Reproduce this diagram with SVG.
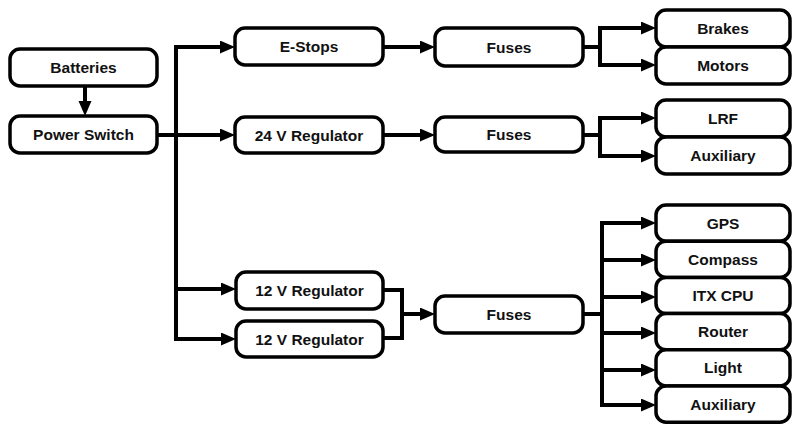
<svg xmlns="http://www.w3.org/2000/svg" width="793" height="424" viewBox="0 0 793 424">
<style>
.box{fill:#fff;stroke:#000;stroke-width:3.5}
.lbl{font-family:"Liberation Sans",Arial,sans-serif;font-weight:bold;font-size:15.5px;fill:#111;text-anchor:middle}
.wire{fill:none;stroke:#000;stroke-width:4;stroke-linecap:square;stroke-linejoin:miter}
.arr{fill:none;stroke:#000;stroke-width:4;marker-end:url(#ah)}
</style>
<defs>
<marker id="ah" markerUnits="userSpaceOnUse" markerWidth="16" markerHeight="14" refX="6" refY="6.5" orient="auto">
<path d="M0,0 L15,6.5 L0,13 Z" fill="#000"/>
</marker>
</defs>
<rect width="793" height="424" fill="#fff"/>
<g id="connectors">
<line class="arr" x1="85" y1="87" x2="85" y2="107"/>
<path class="wire" d="M157,135 H176 M176,47 V339"/>
<line class="arr" x1="176" y1="47" x2="226" y2="47"/>
<line class="arr" x1="176" y1="135" x2="226" y2="135"/>
<line class="arr" x1="176" y1="289" x2="227" y2="289"/>
<line class="arr" x1="176" y1="339" x2="227" y2="339"/>
<line class="arr" x1="383" y1="47" x2="426" y2="47"/>
<line class="arr" x1="383" y1="135" x2="426" y2="135"/>
<path class="wire" d="M583,47 H600 M600,28 V65"/>
<line class="arr" x1="600" y1="28" x2="647" y2="28"/>
<line class="arr" x1="600" y1="65" x2="647" y2="65"/>
<path class="wire" d="M583,135 H600 M600,118 V156"/>
<line class="arr" x1="600" y1="118" x2="647" y2="118"/>
<line class="arr" x1="600" y1="156" x2="647" y2="156"/>
<path class="wire" d="M383,290 H402 V338 H383"/>
<line class="arr" x1="402" y1="314" x2="426" y2="314"/>
<path class="wire" d="M583,314 H602 M602,223 V405"/>
<line class="arr" x1="602" y1="223" x2="647" y2="223"/>
<line class="arr" x1="602" y1="260" x2="647" y2="260"/>
<line class="arr" x1="602" y1="297" x2="647" y2="297"/>
<line class="arr" x1="602" y1="333" x2="647" y2="333"/>
<line class="arr" x1="602" y1="370" x2="647" y2="370"/>
<line class="arr" x1="602" y1="405" x2="647" y2="405"/>
</g>
<g id="batteries"><rect class="box" x="10" y="49" width="147" height="37" rx="10"/><text class="lbl" x="83.5" y="73">Batteries</text></g>
<g id="power-switch"><rect class="box" x="10" y="116" width="147" height="37" rx="10"/><text class="lbl" x="83.5" y="140">Power Switch</text></g>
<g id="e-stops"><rect class="box" x="235" y="28" width="148" height="37" rx="10"/><text class="lbl" x="309" y="52">E-Stops</text></g>
<g id="reg24"><rect class="box" x="235" y="117" width="148" height="36" rx="10"/><text class="lbl" x="309" y="140.5">24 V Regulator</text></g>
<g id="reg12a"><rect class="box" x="236" y="272" width="147" height="37" rx="10"/><text class="lbl" x="309.5" y="296">12 V Regulator</text></g>
<g id="reg12b"><rect class="box" x="236" y="321" width="147" height="36" rx="10"/><text class="lbl" x="309.5" y="344.5">12 V Regulator</text></g>
<g id="fuses1"><rect class="box" x="435" y="28" width="148" height="38" rx="10"/><text class="lbl" x="509" y="52.5">Fuses</text></g>
<g id="fuses2"><rect class="box" x="435" y="117" width="148" height="35" rx="10"/><text class="lbl" x="509" y="140">Fuses</text></g>
<g id="fuses3"><rect class="box" x="435" y="296" width="148" height="37" rx="10"/><text class="lbl" x="509" y="320">Fuses</text></g>
<g id="brakes"><rect class="box" x="656" y="10" width="134" height="37" rx="10"/><text class="lbl" x="723" y="34">Brakes</text></g>
<g id="motors"><rect class="box" x="656" y="47" width="134" height="37" rx="10"/><text class="lbl" x="723" y="71">Motors</text></g>
<g id="lrf"><rect class="box" x="656" y="100" width="134" height="37" rx="10"/><text class="lbl" x="723" y="124">LRF</text></g>
<g id="aux1"><rect class="box" x="656" y="137" width="134" height="37" rx="10"/><text class="lbl" x="723" y="161">Auxiliary</text></g>
<g id="gps"><rect class="box" x="656" y="205" width="134" height="36.2" rx="10"/><text class="lbl" x="723" y="228.6">GPS</text></g>
<g id="compass"><rect class="box" x="656" y="241.2" width="134" height="36.2" rx="10"/><text class="lbl" x="723" y="264.8">Compass</text></g>
<g id="itx"><rect class="box" x="656" y="277.4" width="134" height="36.2" rx="10"/><text class="lbl" x="723" y="301">ITX CPU</text></g>
<g id="router"><rect class="box" x="656" y="313.6" width="134" height="36.2" rx="10"/><text class="lbl" x="723" y="337.2">Router</text></g>
<g id="light"><rect class="box" x="656" y="349.8" width="134" height="36.2" rx="10"/><text class="lbl" x="723" y="373.4">Light</text></g>
<g id="aux2"><rect class="box" x="656" y="386" width="134" height="36.2" rx="10"/><text class="lbl" x="723" y="409.6">Auxiliary</text></g>
</svg>
